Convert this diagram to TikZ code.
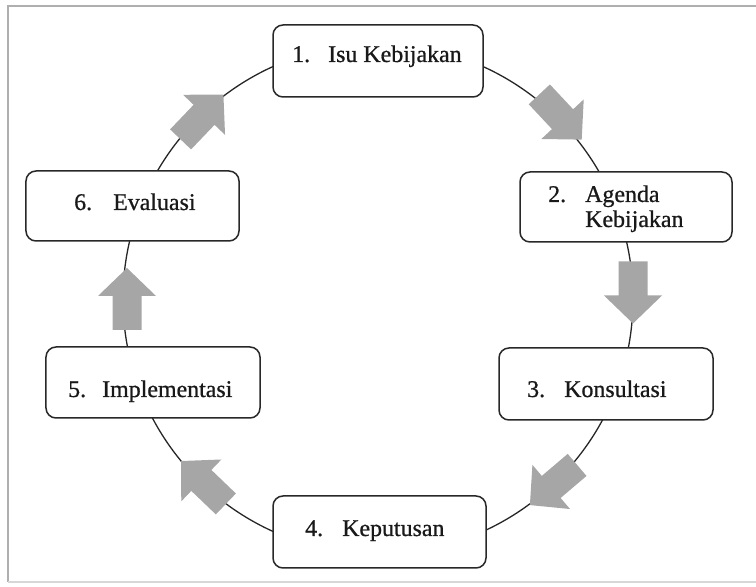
\documentclass[tikz,border=0pt]{standalone}
\usepackage{fontspec}
\setmainfont{Liberation Serif}[RawFeature={embolden=0.8}]
\definecolor{arrowgray}{RGB}{166,166,166}
\definecolor{framegray}{RGB}{175,175,175}
\definecolor{boxline}{RGB}{40,40,40}
\tikzset{
  stagebox/.style={draw=boxline, line width=1.5bp, rounded corners=10bp, fill=white,
    minimum width=#1, inner sep=0pt},
  stagebox/.default=213bp,
  lbl/.style={anchor=base west, inner sep=0pt, font=\fontsize{24}{25}\selectfont, text=black!90},
  ring/.style={draw=black!85, line width=1.3bp},
  framel/.style={draw=framegray, line width=1.2bp},
  pics/blockarr/.style={code={
    \fill[arrowgray] (-31,-14.5) -- (3,-14.5) -- (3,-29) -- (31,0) -- (3,29) -- (3,14.5) -- (-31,14.5) -- cycle;
  }}
}
\begin{document}
\begin{tikzpicture}[x=1bp,y=1bp]
\useasboundingbox (0,0) rectangle (756,587);
% frame
\coordinate (ftl) at (8,581);
\coordinate (ftr) at (756,581);
\coordinate (fbl) at (8,5);
\coordinate (fbr) at (756,5);
\draw[framel] (ftr) -- (ftl) -- (fbl);
\draw[framel, draw=framegray!50] (fbl) -- (fbr);
% ring
\coordinate (c) at (378,288);
\draw[ring] (c) circle[radius=255];
% boxes
\node[stagebox=210bp, minimum height=72bp] (b1) at (378,526) {};
\node[stagebox=212bp, minimum height=70bp] (b2) at (626,380) {};
\node[stagebox=214bp, minimum height=72bp] (b3) at (606,203) {};
\node[stagebox=213bp, minimum height=72bp] (b4) at (379.5,55) {};
\node[stagebox=214bp, minimum height=71bp] (b5) at (153,204.5) {};
\node[stagebox=213bp, minimum height=70bp] (b6) at (132.5,381) {};
% labels
\node[lbl] (n1) at (292,525) {1.};
\node[lbl] (t1) at (328,525) {Isu Kebijakan};
\node[lbl] (n2) at (548,385) {2.};
\node[lbl] (t2a) at (585,385) {Agenda};
\node[lbl] (t2b) at (585,360) {Kebijakan};
\node[lbl] (n3) at (527,190) {3.};
\node[lbl] (t3) at (564,190) {Konsultasi};
\node[lbl] (n4) at (305,51) {4.};
\node[lbl] (t4) at (342,51) {Keputusan};
\node[lbl] (n5) at (68,190) {5.};
\node[lbl] (t5) at (102,190) {Implementasi};
\node[lbl] (n6) at (74,377) {6.};
\node[lbl] (t6) at (113,377) {Evaluasi};
% arrows
\pic[rotate=-46.9] (a12) at (560.5,470) {blockarr};
\pic[rotate=-90] (a23) at (633,294.5) {blockarr};
\pic[rotate=-139.6] (a34) at (553.5,102) {blockarr};
\pic[rotate=136.2] (a45) at (203.5,104.5) {blockarr};
\pic[rotate=90] (a56) at (127,288) {blockarr};
\pic[rotate=46.3] (a61) at (202,470) {blockarr};
\end{tikzpicture}
\end{document}
